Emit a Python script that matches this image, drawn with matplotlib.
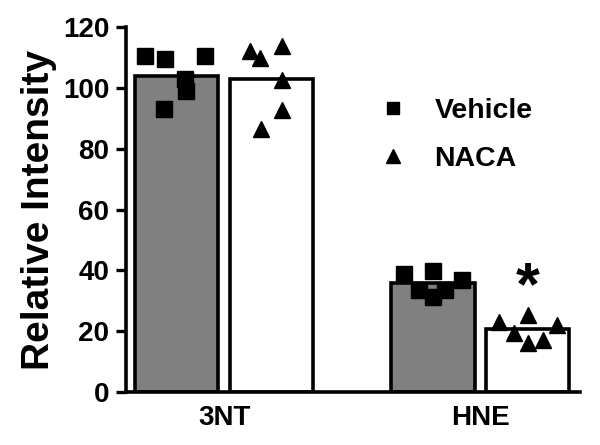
import matplotlib.pyplot as plt
import numpy as np

plt.rcParams['font.family'] = ['Liberation Sans', 'DejaVu Sans']

# data
groups = ['3NT', 'HNE']
vehicle_mean = [104, 35.7]
naca_mean = [103, 20.7]

vehicle_pts = [[110.4, 109.4, 110.4, 103, 99, 93],
               [38.7, 39.7, 36.7, 33.7, 31.4, 33.7]]
naca_pts = [[112, 110, 113.7, 102.5, 92.6, 86.6],
            [23, 19.5, 25.5, 16, 22, 17]]

# horizontal scatter offsets inside each bar
vehicle_jit = [[-0.38, -0.14, 0.34, 0.10, 0.11, -0.15],
               [-0.35, 0.0, 0.35, -0.17, 0.0, 0.14]]
naca_jit = [[-0.26, -0.14, 0.13, 0.13, 0.13, -0.13],
            [-0.35, -0.17, 0.0, 0.0, 0.35, 0.18]]

centers = np.array([0, 3.08])
off = 0.57
w = 1.0

fig = plt.figure(figsize=(6, 4.45), dpi=100)
ax = fig.add_axes([0.21, 0.119, 0.757, 0.82])

ax.bar(centers - off, vehicle_mean, w, color='#808080', edgecolor='black', linewidth=2.6, zorder=2)
ax.bar(centers + off, naca_mean, w, color='white', edgecolor='black', linewidth=2.6, zorder=2)

for i in range(2):
    ax.plot(centers[i] - off + np.array(vehicle_jit[i]), vehicle_pts[i], 's', color='black',
            markersize=11, linestyle='none', zorder=3, label='Vehicle' if i == 0 else None)
    ax.plot(centers[i] + off + np.array(naca_jit[i]), naca_pts[i], '^', color='black',
            markersize=12, linestyle='none', zorder=3, label='NACA' if i == 0 else None)

# significance mark
ax.text(centers[1] + off, 29, '*', fontsize=44, fontweight='bold', ha='center', va='baseline')

ax.set_xlim(-1.18, 4.28)
ax.set_ylim(0, 120)
ax.set_yticks(np.arange(0, 121, 20))
ax.set_xticks(centers)
ax.set_xticklabels(groups, fontsize=20, fontweight='bold')
ax.tick_params(axis='x', length=0, pad=9)
ax.tick_params(axis='y', length=7, width=2.4, pad=5, labelsize=20)
for lab in ax.get_yticklabels():
    lab.set_fontweight('bold')
ax.set_ylabel('Relative Intensity', fontsize=28, fontweight='bold', labelpad=4)

for s in ['top', 'right']:
    ax.spines[s].set_visible(False)
ax.spines['left'].set_linewidth(2.6)
ax.spines['bottom'].set_linewidth(2.6)

ax.legend(frameon=False, loc='upper left', bbox_to_anchor=(0.469, 0.875),
          prop={'size': 20.5, 'weight': 'bold'},
          markerscale=0.85, handletextpad=0.45, labelspacing=0.75)

plt.savefig('out.png', dpi=100)
